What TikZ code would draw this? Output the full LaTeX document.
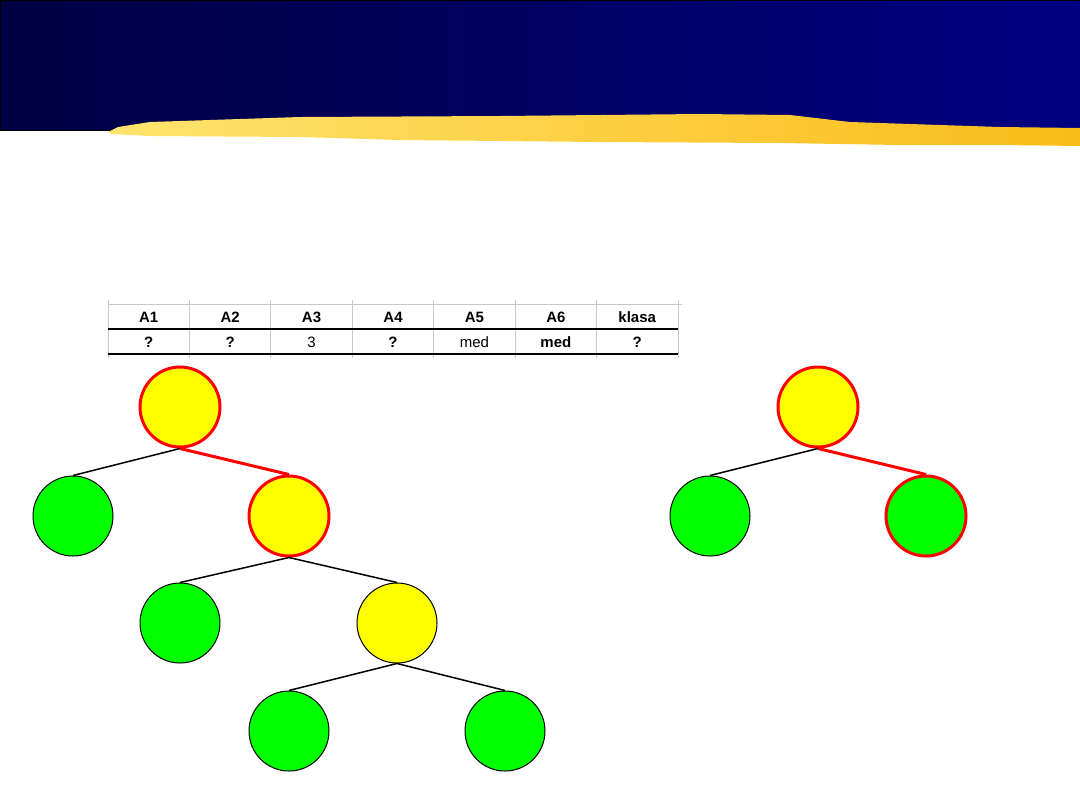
\documentclass[tikz,border=0pt]{standalone}
\usepackage{fontspec}
\setmainfont{Liberation Sans}
\definecolor{navyleft}{RGB}{0,0,66}
\definecolor{navyright}{RGB}{0,0,130}
\definecolor{brushlight}{RGB}{255,228,110}
\definecolor{brushdark}{RGB}{250,188,25}
\definecolor{leafgreen}{RGB}{0,255,0}
\definecolor{nodeyellow}{RGB}{255,255,0}
\definecolor{gridgray}{RGB}{200,200,200}
\begin{document}
\begin{tikzpicture}[
x=0.5pt, y=-0.5pt,
every node/.style={font=\fontsize{7.5}{9}\selectfont},
knot/.style={circle, fill=#1, draw=black, line width=0.5pt, minimum size=40pt, inner sep=0pt},
hot/.style={draw=red, line width=1.5pt},
branch/.style={draw=black, line width=0.75pt},
path/.style={draw=red, line width=1.5pt}
]
\useasboundingbox (0,0) rectangle (1080,810);

% --- Pasek tytulowy ---
\shade[left color=navyleft, right color=navyright, draw=black, line width=0.4pt] (0,0) rectangle (1080,130);
\shade[left color=brushlight, right color=brushdark]
  (108,132) -- (118,127) -- (150,122) -- (300,117) -- (500,116) -- (700,114)
  -- (790,115) -- (850,122) -- (1000,127) -- (1080,128) -- (1080,146)
  -- (1000,145) -- (900,145) -- (780,143) -- (600,142) -- (400,140)
  -- (300,137) -- (150,136) -- (112,134) -- cycle;

% --- Tabela ---
\draw[gridgray, line width=0.5pt] (108,304) -- (682,304);
\foreach \i in {0,...,7}
  \draw[gridgray, line width=0.5pt] ({108+81.43*\i},300) -- ({108+81.43*\i},358);
\draw[black, line width=1pt] (108,329) -- (678,329);
\draw[black, line width=1pt] (108,354) -- (678,354);
\foreach \i/\head/\val in {1/A1/\textbf{?}, 2/A2/\textbf{?}, 3/A3/3, 4/A4/\textbf{?},
                          5/A5/med, 6/A6/\textbf{med}, 7/klasa/\textbf{?}} {
  \node (h\i) at ({108+81.43*(\i-0.5)},317) {\textbf{\head}};
  \node (v\i) at ({108+81.43*(\i-0.5)},342) {\val};
}

% --- Drzewo lewe ---
\node[knot=nodeyellow, hot] (root) at (180,407) {};
\node[knot=leafgreen] (l) at (73,516) {};
\node[knot=nodeyellow, hot] (r) at (289,516) {};
\node[knot=leafgreen] (rl) at (180,623) {};
\node[knot=nodeyellow] (rr) at (397,623) {};
\node[knot=leafgreen] (rrl) at (289,731) {};
\node[knot=leafgreen] (rrr) at (505,731) {};

\draw[branch] (root.south) -- (l.north);
\draw[path] (root.south) -- (r.north);
\draw[branch] (r.south) -- (rl.north);
\draw[branch] (r.south) -- (rr.north);
\draw[branch] (rr.south) -- (rrl.north);
\draw[branch] (rr.south) -- (rrr.north);

% --- Drzewo prawe ---
\node[knot=nodeyellow, hot] (root2) at (818,407) {};
\node[knot=leafgreen] (l2) at (710,516) {};
\node[knot=leafgreen, hot] (r2) at (926,516) {};

\draw[branch] (root2.south) -- (l2.north);
\draw[path] (root2.south) -- (r2.north);

\end{tikzpicture}
\end{document}
